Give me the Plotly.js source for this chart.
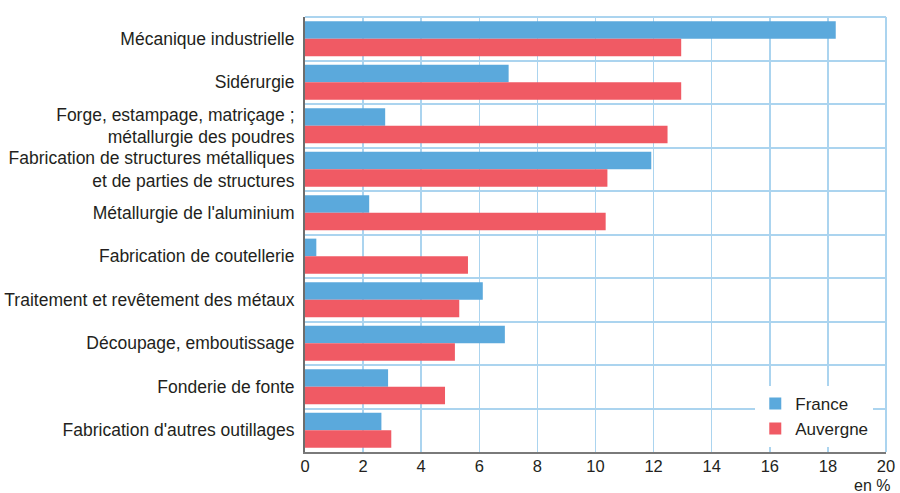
<!DOCTYPE html>
<html>
<head>
<meta charset="utf-8">
<script src="https://cdn.plot.ly/plotly-3.0.1.min.js"></script>
<style>
  html, body { margin: 0; padding: 0; background: #fff; }
  #chart { width: 900px; height: 493px; }
</style>
</head>
<body>
<div id="chart"></div>
<script>
const categories = [
  'Mécanique industrielle',
  'Sidérurgie',
  'Forge, estampage, matriçage ;<br>métallurgie des poudres',
  'Fabrication de structures métalliques<br>et de parties de structures',
  "Métallurgie de l'aluminium",
  'Fabrication de coutellerie',
  'Traitement et revêtement des métaux',
  'Découpage, emboutissage',
  'Fonderie de fonte',
  "Fabrication d'autres outillages"
];

const france = [18.27, 7.01, 2.76, 11.92, 2.21, 0.39, 6.12, 6.88, 2.86, 2.63];
const auvergne = [12.95, 12.95, 12.48, 10.41, 10.35, 5.61, 5.31, 5.16, 4.82, 2.97];

const xTicks = [0, 2, 4, 6, 8, 10, 12, 14, 16, 18, 20];

const positions = categories.map((c, i) => i);
const gridBlue = '#abd4ef';

const franceTrace = {
  type: 'bar',
  orientation: 'h',
  name: 'France',
  x: france,
  y: positions,
  marker: { color: '#5ba9dc' },
  hoverinfo: 'x+name'
};

const auvergneTrace = {
  type: 'bar',
  orientation: 'h',
  name: 'Auvergne',
  x: auvergne,
  y: positions,
  marker: { color: '#f05a64' },
  hoverinfo: 'x+name'
};

const layout = {
  width: 900,
  height: 493,
  margin: { l: 305, r: 14, t: 17, b: 41 },
  paper_bgcolor: '#ffffff',
  plot_bgcolor: '#ffffff',
  font: { family: 'Liberation Sans, Arial, sans-serif', size: 17.5, color: '#231f20' },
  barmode: 'group',
  bargap: 0.19,
  bargroupgap: 0,
  showlegend: true,
  legend: {
    x: 0.775, y: 0.152, xanchor: 'left', yanchor: 'top',
    bgcolor: '#ffffff',
    font: { size: 17, color: '#231f20' },
    traceorder: 'normal',
    tracegroupgap: 0,
    itemwidth: 30
  },
  xaxis: {
    range: [0, 20],
    tickvals: xTicks,
    ticktext: xTicks.map(String),
    showgrid: true,
    gridcolor: gridBlue,
    gridwidth: 1.5,
    zeroline: false,
    showline: true,
    linecolor: '#7a7a7a',
    linewidth: 2,
    ticks: '',
    ticklabelstandoff: -2,
    tickfont: { size: 16.5 },
    fixedrange: true
  },
  yaxis: {
    range: [9.5, -0.5],
    tickvals: positions,
    ticktext: categories,
    showgrid: false,
    zeroline: false,
    showline: true,
    linecolor: '#6d6d6d',
    linewidth: 2,
    ticks: '',
    ticklabelstandoff: 5,
    tickfont: { size: 17.5 },
    minor: { tick0: 0.5, dtick: 1, showgrid: true, gridcolor: gridBlue, gridwidth: 2 },
    fixedrange: true
  },
  shapes: [
    { type: 'line', xref: 'paper', yref: 'paper', x0: 0, x1: 1, y0: 1, y1: 1,
      line: { color: gridBlue, width: 2 } },
    { type: 'line', xref: 'paper', yref: 'paper', x0: 1, x1: 1, y0: 0, y1: 1,
      line: { color: gridBlue, width: 2 } }
  ],
  annotations: [
    { text: 'en %', xref: 'paper', yref: 'paper', x: 1.008, y: -0.056,
      xanchor: 'right', yanchor: 'top', showarrow: false, borderpad: 0,
      font: { size: 16, color: '#231f20' } }
  ]
};

Plotly.newPlot('chart', [franceTrace, auvergneTrace], layout, { displayModeBar: false, staticPlot: true });
</script>
</body>
</html>
